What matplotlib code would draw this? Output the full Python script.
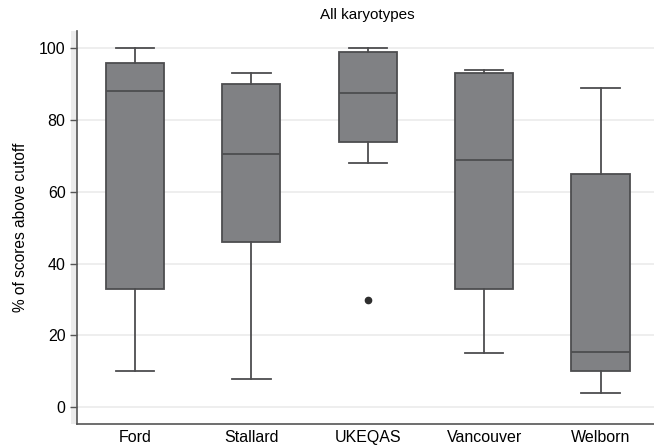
import matplotlib
matplotlib.use('Agg')
import matplotlib.pyplot as plt
from matplotlib.patches import Rectangle

plt.rcParams.update({
    'font.family': ['Liberation Sans', 'DejaVu Sans'],
    'font.size': 11,
})

# Summary statistics per scheme (% of scores above cutoff)
schemes = ['Ford', 'Stallard', 'UKEQAS', 'Vancouver', 'Welborn']
whisker_low = [10, 8, 68, 15, 4]
q1 = [33, 46, 74, 33, 10]
medians = [88, 70.5, 87.5, 69, 15.5]
q3 = [96, 90, 99, 93, 65]
whisker_high = [100, 93, 100, 94, 89]
outliers = [[], [], [30], [], []]

stats = []
for i, name in enumerate(schemes):
    stats.append({
        'label': name,
        'whislo': whisker_low[i],
        'q1': q1[i],
        'med': medians[i],
        'q3': q3[i],
        'whishi': whisker_high[i],
        'fliers': outliers[i],
    })

fig = plt.figure(figsize=(6.54, 4.47), dpi=100)
ax = fig.add_axes([0.1173, 0.0515, 0.890, 0.879])

line_col = '#4d4d4f'
ax.bxp(stats, positions=range(1, 6), widths=0.5, capwidths=0.33,
       patch_artist=True, showfliers=True,
       boxprops=dict(facecolor='#808184', edgecolor=line_col, linewidth=1.3),
       medianprops=dict(color=line_col, linewidth=1.3),
       whiskerprops=dict(color=line_col, linewidth=1.3),
       capprops=dict(color=line_col, linewidth=1.3),
       flierprops=dict(marker='o', markerfacecolor='#2e2e2e',
                       markeredgecolor='#2e2e2e', markersize=4.5))

ax.set_xlim(0.5, 5.5)
ax.set_ylim(-4.65, 104.8)
ax.set_yticks([0, 20, 40, 60, 80, 100])
ax.yaxis.grid(True, color='#ebebeb', linewidth=1.2)
ax.set_axisbelow(True)

for side in ['top', 'right']:
    ax.spines[side].set_visible(False)
for side in ['left', 'bottom']:
    ax.spines[side].set_color('#555555')
    ax.spines[side].set_linewidth(1.2)

ax.tick_params(axis='y', length=5, width=1.0, color='#555555', labelsize=11.5, pad=3)
ax.tick_params(axis='x', length=0, labelsize=11.5, pad=4)

# light band behind the y tick marks
ax.add_patch(Rectangle((-0.0098, 0), 0.0098, 1, transform=ax.transAxes,
                       facecolor='#ececec', edgecolor='none', clip_on=False, zorder=0))

ax.set_ylabel('% of scores above cutoff', fontsize=11.2, labelpad=8)
ax.set_title('All karyotypes', fontsize=11, pad=9)

fig.savefig('out.png', dpi=100)
